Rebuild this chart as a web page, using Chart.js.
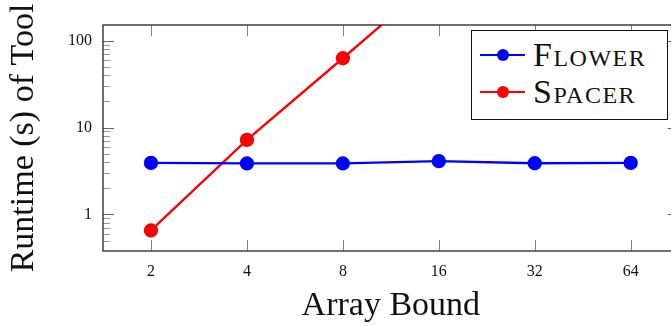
<!DOCTYPE html>
<html>
<head>
<meta charset="utf-8">
<script src="https://cdn.jsdelivr.net/npm/chart.js@4"></script>
<style>
  body { margin: 0; overflow: hidden; background: #fff; }
  #wrap { position: relative; width: 687px; height: 326px; }
  #legend {
    position: absolute; left: 471px; top: 30px; width: 195px; height: 82px;
    border: 1px solid #111; background: #fff; padding-top: 6px; box-sizing: content-box;
    font-family: "Liberation Serif", serif; color: #111;
  }
  .row { height: 36.5px; display: flex; align-items: center; }
  .sample { position: relative; width: 45px; height: 14px; margin-left: 8px; margin-right: 8px; }
  .sample .ln { position: absolute; left: 0; right: 0; top: 5.8px; height: 2.4px; }
  .sample .dot { position: absolute; left: 16.5px; top: 1px; width: 12px; height: 12px; border-radius: 50%; }
  .txt { font-size: 34px; font-variant: small-caps; letter-spacing: 1.5px; line-height: 34px; }
</style>
</head>
<body>
<div id="wrap">
  <canvas id="chartRuntime" width="687" height="326"></canvas>
  <div id="legend"></div>
</div>
<script>
// valores
const bounds = ['2', '4', '8', '16', '32', '64'];
const flowerRuntime = [3.92, 3.86, 3.86, 4.10, 3.88, 3.92];
const spacerRuntime = [0.655, 7.2, 62.6, 560, null, null];
const yTickLabels = [1, 10, 100];

const colores = {
    flower: '#0000ff',
    spacer: '#ff0000'
};

Chart.defaults.font.family = '"Liberation Serif", serif';
Chart.defaults.color = '#111';

// marco completo y ticks hacia dentro (estilo pgfplots)
const marcoPlugin = {
    id: 'marco',
    afterDraw(chart) {
        const { ctx, chartArea: a, scales: { x, y } } = chart;
        const linea = (x1, y1, x2, y2) => { ctx.beginPath(); ctx.moveTo(x1, y1); ctx.lineTo(x2, y2); ctx.stroke(); };
        ctx.save();
        ctx.strokeStyle = '#808080';
        ctx.lineWidth = 1;
        x.ticks.forEach((t, i) => {
            const px = Math.round(x.getPixelForTick(i)) + 0.5;
            linea(px, a.bottom, px, a.bottom - 11);
            linea(px, a.top, px, a.top + 11);
        });
        y.ticks.forEach(t => {
            const v = t.value;
            const e = Math.floor(Math.log10(v) + 1e-9);
            const s = v / Math.pow(10, e);
            if (Math.abs(s - Math.round(s)) > 1e-6) return;
            const mayor = Math.round(s) === 1;
            const py = Math.round(y.getPixelForValue(v)) + 0.5;
            ctx.strokeStyle = mayor ? '#666' : '#999';
            linea(a.left, py, a.left + (mayor ? 11 : 7), py);
            if (mayor) linea(a.right, py, a.right - 11, py);
        });
        ctx.strokeStyle = '#222';
        ctx.lineWidth = 1.3;
        ctx.strokeRect(a.left, a.top, a.right - a.left, a.bottom - a.top);
        ctx.restore();
    }
};

const crearDataset = (label, data, color) => ({
    label: label,
    data: data,
    borderColor: color,
    backgroundColor: color,
    pointBackgroundColor: color,
    pointBorderColor: color,
    pointRadius: 6,
    pointHoverRadius: 6,
    borderWidth: 2.3,
    tension: 0,
    clip: 0
});

const chart = new Chart(document.getElementById('chartRuntime'), {
    type: 'line',
    data: {
        labels: bounds,
        datasets: [
            crearDataset('Flower', flowerRuntime, colores.flower),
            crearDataset('Spacer', spacerRuntime, colores.spacer)
        ]
    },
    options: {
        responsive: false,
        animation: false,
        layout: { padding: { top: 25, right: 1, bottom: 0, left: 0 } },
        plugins: { legend: { display: false }, tooltip: { enabled: false } },
        scales: {
            x: {
                offset: true,
                grid: { display: false, drawTicks: false },
                border: { display: false },
                ticks: { padding: 11, font: { size: 16 } },
                title: { display: true, text: 'Array Bound', font: { size: 34, lineHeight: 1 }, padding: { top: 0, bottom: 3 } },
                afterFit(scale) { scale.height = 75; }
            },
            y: {
                type: 'logarithmic',
                min: 0.38,
                max: 151,
                grid: { display: false, drawTicks: false },
                border: { display: false },
                ticks: {
                    autoSkip: false,
                    padding: 11,
                    font: { size: 16 },
                    callback: (v) => yTickLabels.some(t => Math.abs(t - v) < 1e-9) ? String(v) : ''
                },
                title: { display: true, text: 'Runtime (s) of Tool', font: { size: 34, lineHeight: 1 }, padding: { top: 7, bottom: 0 } },
                afterFit(scale) { scale.width = 103; }
            }
        }
    },
    plugins: [marcoPlugin]
});

// leyenda en HTML para usar versalitas
const leyenda = document.getElementById('legend');
chart.data.datasets.forEach(ds => {
    leyenda.innerHTML += `
        <div class="row">
            <div class="sample"><div class="ln" style="background:${ds.borderColor}"></div><div class="dot" style="background:${ds.borderColor}"></div></div>
            <span class="txt">${ds.label}</span>
        </div>`;
});
</script>
</body>
</html>
